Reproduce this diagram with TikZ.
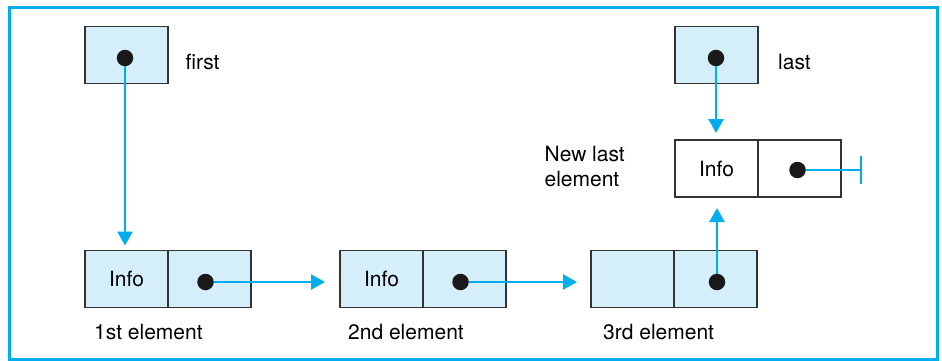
\documentclass[tikz,border=0pt]{standalone}
\usepackage{fontspec}
\setmainfont{TeX Gyre Heros}
\usetikzlibrary{arrows.meta,positioning}
\definecolor{cellblue}{HTML}{D4EEFA}
\definecolor{linkcyan}{HTML}{00AEEF}

\begin{document}
\begin{tikzpicture}[x=1pt, y=-1pt,
                cell/.style={draw=black!80, line width=1.2pt, fill=cellblue,
                             minimum width=83pt, minimum height=57pt,
                             inner sep=0pt, outer sep=0pt,
                             font=\fontsize{21}{25}\selectfont},
                dot/.style={circle, fill=black!90, minimum size=16.5pt, inner sep=0pt},
                link/.style={draw=linkcyan, line width=2.5pt,
                             -{Triangle[length=14pt,width=15pt]}},
                txt/.style={font=\fontsize{21}{25}\selectfont, inner sep=0pt}
            ]
            \useasboundingbox (0,0) rectangle (942,361);
            \draw[linkcyan, line width=3pt] (9,8) rectangle (937,359);
            % pointer cells
            \node[cell] (first) at (126.5,55) {};
            \node[cell] (last)  at (716.5,55) {};
            % list elements
            \node[cell] (info1) at (126.5,279) {Info};
            \node[cell, right=0pt of info1] (ptr1) {};
            \node[cell] (info2) at (381.5,279) {Info};
            \node[cell, right=0pt of info2] (ptr2) {};
            \node[cell] (info3) at (632.5,279) {};
            \node[cell, right=0pt of info3] (ptr3) {};
            \node[cell, fill=white] (newinfo) at (716.5,168.5) {Info};
            \node[cell, fill=white, right=0pt of newinfo] (ptr4) {};
            % dots
            \node[dot] (d0) at ([shift={(-1.5pt,-3pt)}]first.center) {};
            \node[dot] (dl) at ([shift={(-0.5pt,-3pt)}]last.center) {};
            \node[dot] (d1) at ([shift={(-4pt,-3pt)}]ptr1.center) {};
            \node[dot] (d2) at ([shift={(-4pt,-3pt)}]ptr2.center) {};
            \node[dot] (d3) at ([shift={(1.5pt,-3pt)}]ptr3.center) {};
            \node[dot] (d4) at ([shift={(-2pt,-1.5pt)}]ptr4.center) {};
            \coordinate (nil) at ([shift={(20pt,-1.5pt)}]ptr4.east);
            \coordinate (niltop) at ([yshift=14pt]nil);
            \coordinate (nilbot) at ([yshift=-14pt]nil);
            % links
            \draw[link, shorten >=5pt] (d0) -- (d0 |- info1.north);
            \draw[link, shorten >=7pt] (dl) -- (dl |- newinfo.north);
            \draw[link, shorten >=15pt] (d1) -- (d1 -| info2.west);
            \draw[link, shorten >=14pt] (d2) -- (d2 -| info3.west);
            \draw[link, shorten >=11pt] (d3) -- (d3 |- newinfo.south);
            \draw[linkcyan, line width=2.5pt] (d4) -- (nil);
            \draw[linkcyan, line width=2.5pt] (niltop) -- (nilbot);
            % labels
            \node[txt, anchor=base west] (firstlbl) at ([shift={(17.5pt,-15pt)}]first.east) {first};
            \node[txt, anchor=base west] (lastlbl) at ([shift={(20pt,-15pt)}]last.east) {last};
            \node[txt, align=left, left=50pt of newinfo, yshift=2pt] (newlbl) {New last\\element};
            \node[txt, anchor=base west] (lbl1) at ([shift={(9pt,-32pt)}]info1.south west) {1st element};
            \node[txt, anchor=base west] (lbl2) at ([shift={(8pt,-32pt)}]info2.south west) {2nd element};
            \node[txt, anchor=base west] (lbl3) at ([shift={(12pt,-32pt)}]info3.south west) {3rd element};
\end{tikzpicture}
\end{document}
